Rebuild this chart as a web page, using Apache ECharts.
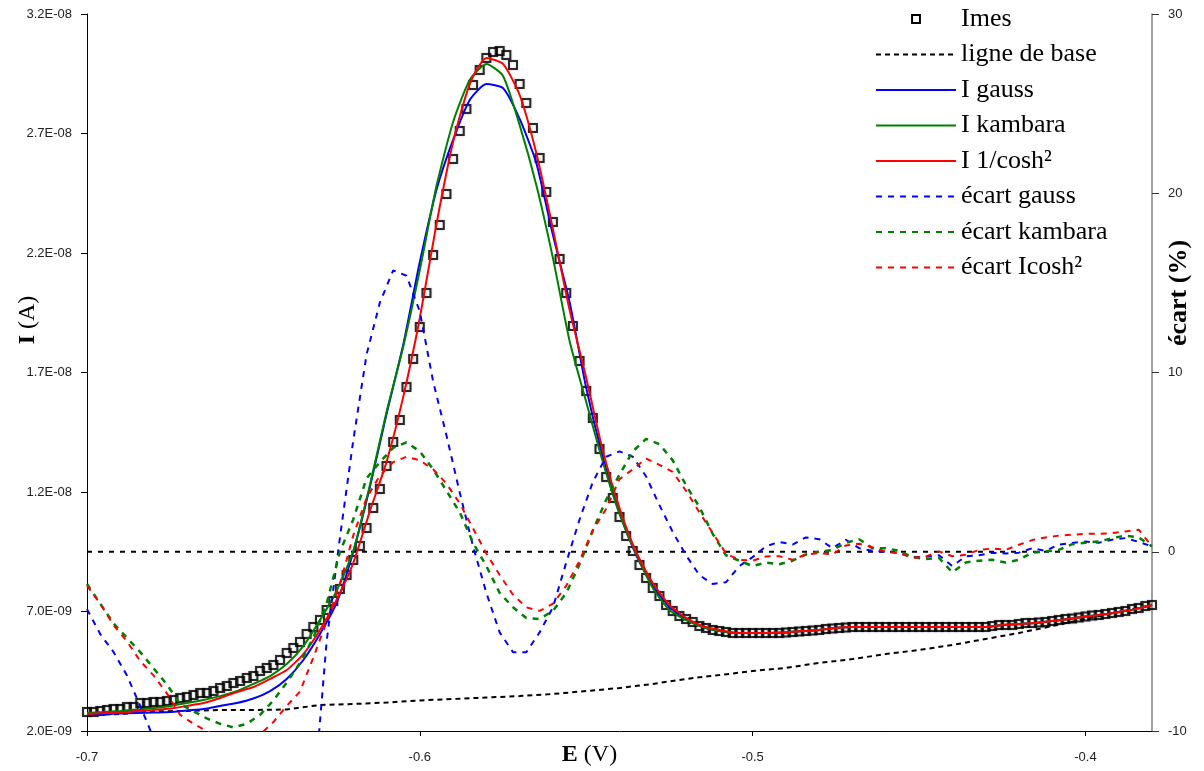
<!DOCTYPE html>
<html><head><meta charset="utf-8">
<script src="https://cdn.jsdelivr.net/npm/echarts@6/dist/echarts.min.js"></script>
<style>html,body{margin:0;padding:0;background:#fff}#c{width:1204px;height:771px}</style>
</head><body><div id="c"></div>
<script>
// ---- axis ranges and tick labels ----
const E_MIN = -0.7, E_MAX = -0.38;
const xTicks = [-0.7, -0.6, -0.5, -0.4];
const leftTicks = [2.0e-9, 7.0e-9, 1.2e-8, 1.7e-8, 2.2e-8, 2.7e-8, 3.2e-8];
const rightMin = -10, rightMax = 30, rightStep = 10;

// ---- sampling grids (potential E in V) ----
const IMES_STEP = 0.002;   // measured points every 2 mV
const FIT_STEP = 0.005;    // fitted curves read every 5 mV
const BASE_STEP = 0.010;   // baseline read every 10 mV
const ECART_STEP = 0.004;  // deviations read every 4 mV

// ---- measured current Imes (nA) ----
const imesNA = [2.79,2.79,2.84,2.88,2.92,2.92,3.00,3.00,3.17,3.17,
3.21,3.21,3.26,3.30,3.38,3.42,3.51,3.59,3.59,3.67,
3.80,3.88,4.01,4.09,4.22,4.30,4.51,4.64,4.76,4.97,
5.26,5.47,5.72,6.06,6.35,6.64,7.06,7.44,7.94,8.53,
9.15,9.74,10.49,11.33,12.13,13.09,14.09,15.01,16.39,17.56,
18.90,20.33,21.92,23.17,24.47,25.93,27.10,28.03,29.03,29.66,
30.16,30.41,30.45,30.28,29.87,29.07,28.28,27.23,25.97,24.55,
23.30,21.75,20.33,18.95,17.48,16.23,15.10,13.80,12.63,11.75,
10.95,10.16,9.53,8.95,8.40,7.98,7.65,7.27,7.02,6.81,
6.69,6.56,6.39,6.31,6.23,6.18,6.14,6.10,6.10,6.10,
6.10,6.10,6.10,6.10,6.10,6.12,6.14,6.16,6.18,6.20,
6.23,6.27,6.29,6.31,6.33,6.35,6.35,6.35,6.35,6.35,
6.35,6.35,6.35,6.35,6.35,6.35,6.35,6.35,6.35,6.35,
6.35,6.35,6.35,6.35,6.35,6.35,6.39,6.44,6.44,6.44,
6.48,6.52,6.52,6.54,6.56,6.60,6.64,6.69,6.71,6.75,
6.79,6.83,6.85,6.90,6.94,6.98,7.02,7.10,7.15,7.23,
7.27];

// ---- baseline (nA) ----
const baseNA = [2.67,2.71,2.82,2.84,2.88,2.88,2.90,3.09,3.13,3.19,
3.28,3.34,3.40,3.46,3.55,3.67,3.80,3.97,4.18,4.34,
4.51,4.64,4.85,5.01,5.22,5.39,5.60,5.85,6.10,6.39,
6.69,6.98,7.27];

// ---- fitted currents (nA) ----
const gaussNA = [2.67,2.71,2.73,2.75,2.77,2.79,2.86,2.92,3.05,3.17,
3.36,3.67,4.18,4.97,6.06,7.36,9.49,12.21,15.26,18.15,
21.62,24.64,26.73,28.40,29.07,28.90,27.61,25.77,22.75,19.95,
16.35,13.46,11.12,9.36,8.07,7.20,6.69,6.35,6.18,6.10,
6.10,6.10,6.12,6.18,6.23,6.31,6.35,6.35,6.35,6.35,
6.35,6.35,6.35,6.35,6.35,6.44,6.48,6.52,6.60,6.69,
6.79,6.87,6.98,7.10,7.27];
const kambaraNA = [2.75,2.79,2.84,2.90,2.96,3.05,3.17,3.30,3.46,3.67,
3.97,4.30,4.80,5.55,6.64,7.86,9.53,12.29,15.35,18.07,
21.29,24.80,27.48,29.24,29.91,29.41,27.35,24.85,21.79,18.32,
15.77,13.26,11.08,9.41,7.98,7.06,6.64,6.35,6.18,6.10,
6.10,6.10,6.12,6.18,6.23,6.31,6.35,6.35,6.35,6.35,
6.35,6.35,6.35,6.35,6.35,6.44,6.48,6.52,6.60,6.69,
6.79,6.87,6.98,7.10,7.27];
const coshNA = [2.71,2.75,2.77,2.84,2.88,2.94,3.05,3.17,3.38,3.63,
3.84,4.18,4.55,5.22,6.23,7.48,9.03,11.20,13.26,15.97,
19.28,23.21,26.64,29.07,30.16,29.91,28.61,26.18,23.00,19.62,
16.77,13.72,11.33,9.49,8.19,7.27,6.73,6.39,6.23,6.10,
6.10,6.10,6.12,6.18,6.23,6.31,6.35,6.35,6.35,6.35,
6.35,6.35,6.35,6.35,6.35,6.44,6.48,6.52,6.60,6.69,
6.79,6.87,6.98,7.10,7.27];

// ---- deviations (%) ----
const ecartGauss = [-3.2,-4.6,-5.6,-6.9,-8.6,-10.4,-11.8,-13,-14,-14.5,
-15,-15,-15,-15,-15,-14.8,-14.5,-14,-5.0,0.8,
6.2,11.0,13.9,15.7,15.4,13.4,9.5,6.5,3.3,0.3,
-2.3,-4.5,-5.6,-5.6,-4.5,-3.1,-0.6,1.8,3.9,5.3,
5.6,5.3,4.2,2.6,1.1,-0.2,-1.3,-1.8,-1.7,-0.8,
-0.3,0.3,0.55,0.4,0.8,0.7,0.2,0.67,0.2,0.05,
0.0,-0.07,-0.3,-0.28,-0.2,-0.8,-0.26,-0.2,-0.05,-0.1,
-0.05,0.2,0.05,0.4,0.49,0.57,0.5,0.67,0.76,0.55,
0.3];
const ecartKambara = [-1.8,-2.9,-4.0,-4.8,-5.6,-6.5,-7.4,-8.5,-8.9,-9.3,
-9.6,-9.8,-9.6,-9.1,-8.3,-7.3,-6.2,-4.8,-2.9,0.0,
1.8,4.1,5.0,5.8,6.1,5.6,4.6,3.4,2.2,0.5,
-0.8,-2.3,-3.1,-3.7,-3.75,-3.3,-2.3,-0.7,1.2,2.9,
4.3,5.6,6.3,6.0,5.1,3.7,2.5,1.0,-0.2,-0.5,
-0.8,-0.6,-0.7,-0.5,-0.15,0.0,0.1,0.5,0.7,0.2,
0.2,0.05,-0.3,-0.4,-0.35,-1.15,-0.6,-0.5,-0.45,-0.6,
-0.45,-0.05,0.02,0.1,0.42,0.5,0.57,0.76,0.9,0.8,
0.3];
const ecartCosh = [-1.9,-2.9,-4.1,-5.0,-6.1,-6.9,-7.9,-9.1,-9.6,-10.0,
-10.4,-10.6,-10.5,-10.2,-9.5,-8.6,-7.8,-5.9,-3.9,-1.8,
0.9,3.0,4.25,5.0,5.3,5.1,4.6,3.8,2.7,1.3,
-0.1,-1.3,-2.4,-3.1,-3.3,-2.9,-1.9,-0.5,1.2,2.4,
4.05,4.6,5.2,4.85,4.45,3.4,2.2,1.05,-0.1,-0.45,
-0.5,-0.26,-0.25,-0.45,-0.15,-0.07,-0.15,0.35,0.45,0.25,
0.0,-0.07,-0.35,-0.27,0.02,-0.25,-0.17,0.1,0.18,0.11,
0.39,0.65,0.8,0.9,0.95,1.0,1.0,1.04,1.13,1.23,
0.3];
const zeroLine = [[E_MIN, 0], [E_MAX, 0]];

// ---- helpers ----
const NA = 1e-9;
function onGrid(step, vals, scale) {
  return vals.map((v, i) => [+(E_MIN + step * i).toFixed(4), v * scale]);
}
function sci(v) {
  const s = v.toExponential(1).split('e');
  const n = parseInt(s[1], 10);
  return s[0] + 'E' + (n < 0 ? '-' : '+') + String(Math.abs(n)).padStart(2, '0');
}

const SERIF = 'Liberation Serif';
const SANS = 'Liberation Sans';
const lbl = { fontFamily: SANS, fontSize: 13, color: '#222' };

const chart = echarts.init(document.getElementById('c'));
chart.setOption({
  animation: false,
  backgroundColor: '#fff',
  grid: { left: 87, right: 52, top: 14, bottom: 40, containLabel: false, outerBoundsMode: 'none' },
  legend: {
    orient: 'vertical', left: 870, top: 1,
    itemWidth: 80, itemHeight: 14, itemGap: 9.5,
    itemStyle: { opacity: 0 },
    textStyle: { fontFamily: SERIF, fontSize: 26, lineHeight: 26, color: '#000' },
    data: [
      { name: 'Imes', icon: 'path://M0,0M16,16M3.5,3.5h9v9h-9z',
        itemStyle: { opacity: 1, color: 'rgba(0,0,0,0)', borderColor: '#000', borderWidth: 2 } },
      'ligne de base', 'I gauss', 'I kambara', 'I 1/cosh²',
      'écart gauss', 'écart kambara', 'écart Icosh²'
    ]
  },
  xAxis: {
    type: 'value', min: E_MIN, max: E_MAX,
    axisLine: { show: true, onZero: false, lineStyle: { color: '#000', width: 1 } },
    axisTick: { show: true, customValues: xTicks, length: 5, lineStyle: { color: '#000' } },
    axisLabel: Object.assign({ customValues: xTicks, margin: 20, formatter: v => v.toFixed(1) }, lbl),
    splitLine: { show: false },
    name: '{b|E} (V)', nameLocation: 'middle', nameGap: 12, nameMoveOverlap: false,
    nameTextStyle: { fontFamily: SERIF, fontSize: 24, color: '#000', padding: [0, 60, 0, 0],
      rich: { b: { fontFamily: SERIF, fontSize: 24, fontWeight: 'bold', color: '#000' } } }
  },
  yAxis: [
    {
      type: 'value', position: 'left', min: leftTicks[0], max: leftTicks[leftTicks.length - 1],
      axisLine: { show: true, onZero: false, lineStyle: { color: '#000', width: 1 } },
      axisTick: { show: true, customValues: leftTicks, length: 6, lineStyle: { color: '#000' } },
      axisLabel: Object.assign({ customValues: leftTicks, margin: 15, formatter: sci }, lbl),
      splitLine: { show: false },
      name: '{b|I} (A)', nameLocation: 'middle', nameRotate: 90, nameGap: 47, nameMoveOverlap: false,
      nameTextStyle: { fontFamily: SERIF, fontSize: 24, color: '#000', padding: [0, 0, 0, 105],
        rich: { b: { fontFamily: SERIF, fontSize: 24, fontWeight: 'bold', color: '#000' } } }
    },
    {
      type: 'value', position: 'right', min: rightMin, max: rightMax, interval: rightStep,
      axisLine: { show: true, onZero: false, lineStyle: { color: '#808080', width: 1.5 } },
      axisTick: { show: true, length: 7, lineStyle: { color: '#333' } },
      axisLabel: Object.assign({ margin: 16 }, lbl),
      splitLine: { show: false },
      name: 'écart (%)', nameLocation: 'middle', nameRotate: 90, nameGap: 14, nameMoveOverlap: false,
      nameTextStyle: { fontFamily: SERIF, fontSize: 26, fontWeight: 'bold', color: '#000', padding: [0, 0, 0, 159] }
    }
  ],
  series: [
    { name: 'Imes', type: 'scatter', data: onGrid(IMES_STEP, imesNA, NA), z: 2,
      symbol: 'rect', symbolSize: 8,
      itemStyle: { color: 'rgba(0,0,0,0)', borderColor: '#000', borderWidth: 2,
        shadowColor: 'rgba(0,0,0,0.35)', shadowBlur: 2 } },
    { name: 'ligne de base', type: 'line', data: onGrid(BASE_STEP, baseNA, NA), z: 3,
      symbol: 'none', lineStyle: { color: '#000', width: 2, type: [5, 4] }, itemStyle: { color: '#000' } },
    { name: 'I gauss', type: 'line', data: onGrid(FIT_STEP, gaussNA, NA), z: 3, smooth: 0.2,
      symbol: 'none', lineStyle: { color: '#0000ff', width: 2 }, itemStyle: { color: '#0000ff' } },
    { name: 'I kambara', type: 'line', data: onGrid(FIT_STEP, kambaraNA, NA), z: 3, smooth: 0.2,
      symbol: 'none', lineStyle: { color: '#008000', width: 2 }, itemStyle: { color: '#008000' } },
    { name: 'I 1/cosh²', type: 'line', data: onGrid(FIT_STEP, coshNA, NA), z: 3, smooth: 0.2,
      symbol: 'none', lineStyle: { color: '#ff0000', width: 2 }, itemStyle: { color: '#ff0000' } },
    { name: 'écart gauss', type: 'line', yAxisIndex: 1, data: onGrid(ECART_STEP, ecartGauss, 1), z: 3,
      symbol: 'none', lineStyle: { color: '#0000ff', width: 2, type: [6, 6] }, itemStyle: { color: '#0000ff' } },
    { name: 'écart kambara', type: 'line', yAxisIndex: 1, data: onGrid(ECART_STEP, ecartKambara, 1), z: 3,
      symbol: 'none', lineStyle: { color: '#008000', width: 2.5, type: [6, 6] }, itemStyle: { color: '#008000' } },
    { name: 'écart Icosh²', type: 'line', yAxisIndex: 1, data: onGrid(ECART_STEP, ecartCosh, 1), z: 3,
      symbol: 'none', lineStyle: { color: '#ff0000', width: 2, type: [6, 6] }, itemStyle: { color: '#ff0000' } },
    { name: 'zero', type: 'line', yAxisIndex: 1, data: zeroLine, z: 1, silent: true,
      symbol: 'none', lineStyle: { color: '#000', width: 2, type: [5, 6] } }
  ]
});
</script>
</body></html>
